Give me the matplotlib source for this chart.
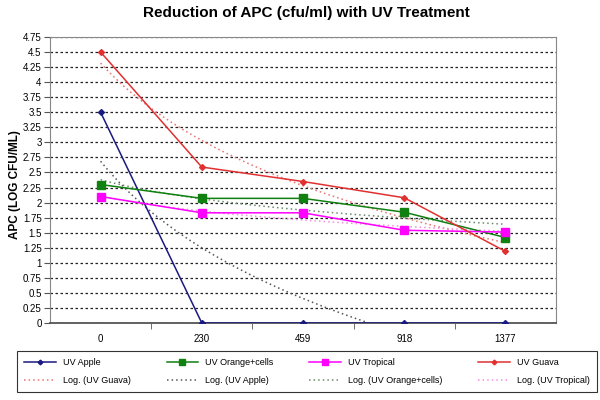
import numpy as np
import matplotlib.pyplot as plt

plt.rcParams['font.family'] = ['Liberation Sans', 'DejaVu Sans']

# Datos
doses = ['0', '230', '459', '918', '1377']
uv_apple = [3.5, 0.0, 0.0, 0.0, 0.0]
uv_orange = [2.30, 2.07, 2.07, 1.84, 1.42]
uv_tropical = [2.10, 1.83, 1.83, 1.54, 1.51]
uv_guava = [4.5, 2.59, 2.35, 2.08, 1.19]
y_ticks = np.arange(0, 4.76, 0.25)

x = np.arange(len(doses))

fig = plt.figure(figsize=(6, 4), dpi=100)
ax = fig.add_axes([50 / 600, 1 - 323 / 400, 506 / 600, 286 / 400])

# Series principales
ax.plot(x, uv_apple, '-D', color='#1a1a80', lw=1.1, ms=3, label='UV Apple', zorder=4)
ax.plot(x, uv_orange, '-s', color='#108010', lw=1.1, ms=6, label='UV Orange+cells', zorder=4)
ax.plot(x, uv_tropical, '-s', color='#ff00ff', lw=1.1, ms=6, label='UV Tropical', zorder=4)
ax.plot(x, uv_guava, '-D', color='#e03030', lw=1.1, ms=3, label='UV Guava', zorder=4)

# Lineas de tendencia logaritmicas (como en Excel: y = a*ln(x) + b, x = 1..n)
xs = np.linspace(0, len(doses) - 1, 200)
def log_curve(values):
    a, b = np.polyfit(np.log(x + 1), values, 1)
    return a * np.log(xs + 1) + b

trend_style = dict(ls=(0, (1, 2)), lw=1.1, zorder=3)
ax.plot(xs, log_curve(uv_guava), color='#e87070', label='Log. (UV Guava)', **trend_style)
ax.plot(xs, log_curve(uv_apple), color='#555555', label='Log. (UV Apple)', **trend_style)
ax.plot(xs, log_curve(uv_orange), color='#6a8a6a', label='Log. (UV Orange+cells)', **trend_style)
ax.plot(xs, log_curve(uv_tropical), color='#f090e0', label='Log. (UV Tropical)', **trend_style)

ax.set_xlim(-0.5, len(doses) - 0.5)
ax.set_ylim(0, 4.75)
ax.set_xticks(x)
ax.set_xticklabels(doses)
ax.set_xticks(x[:-1] + 0.5, minor=True)
ax.tick_params(axis='x', which='major', length=0, labelsize=7, pad=8)
ax.tick_params(axis='x', which='minor', length=4, direction='out', color='#555555')
ax.set_yticks(y_ticks)
ax.set_yticklabels([f'{v:g}' for v in y_ticks])
ax.tick_params(axis='y', labelsize=7, length=4, direction='out', color='#555555', pad=2)
ax.yaxis.grid(True, color='#222222', ls=(0, (2, 2)), lw=0.9)
ax.set_axisbelow(True)
for s in ax.spines.values():
    s.set_color('#888888')
ax.spines['bottom'].set_color('#555555')
ax.spines['bottom'].set_linewidth(1.3)

fig.text(15 / 600, 1 - 185 / 400, 'APC (LOG CFU/ML)', rotation=90,
         ha='center', va='center', fontsize=8.5, fontweight='bold')
fig.text(0.51, 1 - 13 / 400, 'Reduction of APC (cfu/ml) with UV Treatment',
         ha='center', va='center', fontsize=11, fontweight='bold')

# Leyenda en dos filas (se rellena por columnas)
h, l = ax.get_legend_handles_labels()
order = [0, 4, 1, 5, 2, 6, 3, 7]
leg = fig.legend([h[i] for i in order], [l[i] for i in order], ncol=4,
                 loc='center', bbox_to_anchor=(17 / 600, 5 / 400, 580 / 600, 47 / 400),
                 mode='expand', fontsize=6.5, frameon=True, fancybox=False,
                 handlelength=3.5, borderaxespad=0, columnspacing=1.0, labelspacing=1.0,
                 markerscale=0.8, borderpad=0.8)
leg.get_frame().set_edgecolor('black')
leg.get_frame().set_linewidth(0.8)

plt.savefig('out.png', dpi=100)
